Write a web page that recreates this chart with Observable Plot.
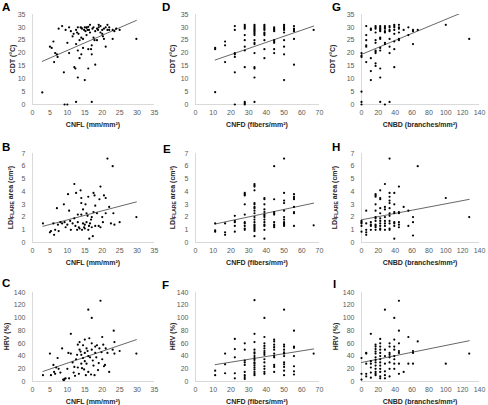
<!DOCTYPE html>
<html><head><meta charset="utf-8">
<script src="https://cdn.jsdelivr.net/npm/d3@7"></script>
<script src="https://cdn.jsdelivr.net/npm/@observablehq/plot@0.6"></script>
<style>
body{margin:0;background:#fff;}
#wrap{position:relative;width:488px;height:405px;font-family:"Liberation Sans",Arial,sans-serif;overflow:hidden;background:#fff;}
#wrap svg{position:absolute;}
</style></head><body><div id="wrap"></div>
<script>
// ---- tick labels ----
const cnflTicks = [0,5,10,15,20,25,30,35];
const cnfdTicks = [0,10,20,30,40,50,60,70];
const cnbdTicks = [0,20,40,60,80,100,120,140];
const cdtTicks = [0,5,10,15,20,25,30,35];
const ldiTicks = [0,1,2,3,4,5,6,7];
const hrvTicks = [0,20,40,60,80,100,120,140];

// ---- data: CNFL (continuous) ----
const cdtVsCnfl = [[2.8,4.7],[9.2,0],[10,0],[12.5,1],[17,1],[6,24.5],[5,22.5],[5.5,22],[6.2,16.5],[6.5,20],[7,19.5],[7.2,18.5],[7.5,29.5],[8.5,30.5],[9,12.5],[9.5,29],[10,24],[10.5,20],[10.5,30],[11,28.5],[11.5,26.5],[11.8,27.5],[12,14.5],[12.3,14],[12.5,23.5],[12.5,29],[13,10.5],[13,21],[13.5,18],[13.5,25],[13.8,30],[14,19.5],[14,26],[14.2,29.5],[14.5,25.5],[14.5,22],[14.8,29],[15,30],[15,9.5],[15.2,28.5],[15.5,30],[15.5,27],[15.8,29],[16,14],[16,21.5],[16.2,29],[16.5,31],[16.5,28],[16.8,21.5],[17,19.5],[17,23],[17.2,29.5],[17.5,26],[17.5,30],[17.8,25],[18,15.5],[18,28.5],[18.5,25],[18.5,29.5],[19,31],[19,30],[19.5,30.5],[19.5,28],[20,29],[20,27.5],[20.2,26.5],[20.5,25.5],[20.5,29.5],[21,22.5],[21,30],[21.5,31],[21.5,29],[22,30],[22,29],[23,29],[23,25.5],[23.5,28.5],[24,29.5],[25,29],[29.8,25.5],[13,30],[14,29.8],[15.5,29.8],[16,30.2],[18.8,29],[12.8,28],[13.2,27.5]];
const ldiVsCnfl = [[3,1.5],[5,0.8],[5.3,0.9],[6,1.5],[6.2,0.6],[6.5,1],[7,2.7],[7.3,1.4],[7.5,0.9],[8,1.6],[8.5,1.5],[9,3],[9.2,1.6],[9.5,1.2],[10,1.4],[10.2,3.8],[10.5,2.5],[10.8,1.7],[11,1.0],[11.5,1.5],[12,4.6],[12,1.9],[12.3,1.3],[12.5,3.9],[12.8,1.0],[13,1.6],[13,2.2],[13.3,1.2],[13.5,1.1],[13.8,4.1],[14,3.5],[14,3.1],[14,2.2],[14.2,1.0],[14.5,1.5],[14.5,2.6],[14.8,1.2],[15,1.1],[15,1.4],[15.2,3.0],[15.5,2.3],[15.5,1.6],[15.8,2.1],[16,1.0],[16,3.6],[16.2,1.3],[16.3,0.3],[16.5,1.5],[16.8,1.8],[17,2.0],[17,1.2],[17.3,0.5],[17.5,3.9],[17.5,2.4],[17.8,3.7],[18,2.9],[18,1.3],[18.5,2.3],[19,1.3],[19.2,3.4],[19.5,4.4],[19.5,1.2],[20,2.0],[20.2,1.6],[20.5,3.7],[21,3.5],[21,2.3],[21.5,6.6],[22,2.8],[22.5,1.5],[23,6.0],[23.2,2.3],[23.5,1.4],[25,1.6],[29.8,2.0]];
const hrvVsCnfl = [[3,10],[5,44],[5.3,10],[6,26],[6.2,15],[6.5,12],[6.8,22],[7.2,37],[7.5,20],[8,14],[8.5,52],[8.8,3],[9,2],[9.2,4],[9.5,5],[10,20],[10.3,45],[10.5,5],[11,75],[11,44],[11.5,30],[11.8,14],[12,23],[12.2,9],[12.5,35],[12.8,42],[13,58],[13,22],[13.3,12],[13.5,62],[13.5,50],[13.8,47],[14,42],[14,28],[14.2,21],[14.5,57],[14.5,37],[14.8,19],[15,66],[15,45],[15,32],[15.3,10],[15.5,52],[15.5,28],[15.8,48],[16,113],[16,40],[16,15],[16.3,68],[16.5,38],[16.8,11],[17,100],[17,60],[17,50],[17.3,33],[17.5,25],[17.8,10],[18,55],[18,45],[18.3,38],[18.5,57],[18.8,18],[19,29],[19.2,52],[19.5,127],[19.8,46],[20,70],[20,35],[20.3,58],[20.5,24],[20.8,26],[21,52],[21.5,45],[22,15],[23,50],[23.3,80],[23.5,62],[23.5,44],[25,48],[29.8,44]];

// ---- data: CNFD (discrete x, list of y values) ----
const cdtVsCnfd = [[11.1,[22,21.5,4.8]],[16.7,[24.5,23,16.5]],[22.2,[30.5,29,20,19.5,18.5,12.5,0]],[27.8,[31,30.5,30,29.5,27,25,22.5,21,14.5,1,0.5,0]],[33.3,[31,30.5,30,29.5,29,28.5,28,27.5,27,25,24,23.5,20,14.5,14,10.5,1]],[38.9,[31,30.5,30,29.5,29,28,27.5,27,25,21.5,18]],[44.4,[30,29.5,29,28.5,25,24.5,24,21.5,20]],[50,[31,30.5,30,29.5,29,28,25,22.5,19.5,9.5]],[55.6,[30.5,29.5,29,28.5,25.5,15.5]],[66.7,[29]]];
const ldiVsCnfd = [[11.1,[1.5,0.95,0.85]],[16.7,[1.5,0.8,0.6]],[22.2,[2.1,1.7,1.6,1.3,0.85]],[27.8,[3.9,3.8,3.7,3.0,2.2,1.6,1.5,1.3,1.1,1.0]],[33.3,[4.6,4.5,4.4,4.1,3.1,3.0,2.8,2.7,2.5,2.3,2.0,1.8,1.6,1.4,1.3,1.2,1.1,1.0,0.9,0.5]],[38.9,[3.5,3.4,3.0,2.6,2.4,2.2,2.1,2.0,1.8,1.6,1.4,1.3,1.0,0.3]],[44.4,[6.0,3.4,2.4,2.3,2.2,1.6,1.4,1.3,1.2]],[50,[6.6,3.9,3.3,3.1,2.5,2.0,1.8,1.6,1.5,1.4,1.3]],[55.6,[3.8,3.6,3.5,3.4,2.8,2.4,2.3,1.3]],[66.7,[1.35]]];
const hrvVsCnfd = [[11.1,[17,10]],[16.7,[44,27,13]],[22.2,[67,51,38,13,5]],[27.8,[60,50,33,30,26,15,10,7,4]],[33.3,[128,75,62,50,46,44,40,37,34,30,28,25,22,19,15,12,10]],[38.9,[100,70,60,56,52,48,45,42,35,30,24,20,15,12]],[44.4,[66,63,58,54,50,44,40,38,26,23,15]],[50,[113,58,55,50,46,44,40,30,27,23,17,10]],[55.6,[80,55,53,40,24,16,11]],[66.7,[44]]];

// ---- data: CNBD (discrete x, list of y values) ----
const cdtVsCnbd = [[0,[20,19,18.5,5,1,0]],[5.6,[30.5,27,25,23,22.5,16.5]],[11.1,[29.5,29,18,13,9.5]],[16.7,[30.5,30,29.5,28,25,24,21,20.5,20,16,15]],[22.2,[30.5,30,29.5,29,28.5,26,25.5,22,21,14,10.5,1]],[27.8,[30.5,30,29.5,28.5,28,24,23.5,0]],[33.3,[30.5,30,29,28.5,25.5,22.5,20,1]],[38.9,[31,30.5,30,29,27.5,24.5,21.5,14.5]],[44.4,[31,30,29.5,28,25.5,25]],[50,[29]],[55.6,[30,27]],[61.1,[29,28.5,23.5]],[66.7,[29]],[100,[31]],[127.8,[25.5]]];
const ldiVsCnbd = [[0,[1.7,1.6,1.5,1.3,0.85]],[5.6,[2.5,1.5,1.0,0.8,0.6]],[11.1,[1.6,1.4,1.3,1.0]],[16.7,[3.8,3.7,3.6,3.0,2.5,2.0,1.9,1.7,1.4,1.3,1.2,1.0]],[22.2,[4.1,3.5,3.4,2.7,2.3,1.9,1.7,1.5,1.3,1.1,1.0]],[27.8,[4.6,2.8,2.6,2.0,1.7,1.5,1.3,1.0]],[33.3,[6.6,3.9,3.6,3.3,3.1,2.7,2.3,2.1,1.7,1.5,1.1,1.0]],[38.9,[3.9,3.0,2.4,2.3,1.6,1.5,1.3,0.3]],[44.4,[4.4,2.4,2.3,1.6,1.4,1.2]],[50,[2.8]],[55.6,[2.5,1.3]],[61.1,[2.0,1.6,0.55]],[66.7,[6.0]],[100,[3.5]],[127.8,[2.0]]];
const hrvVsCnbd = [[0,[37,12,3]],[5.6,[45,44,28,12,8]],[11.1,[75,32,28,22,14,6]],[16.7,[58,55,51,47,44,38,34,30,25,20,15,12,10]],[22.2,[67,60,55,50,45,40,35,30,25,20,15,8,5]],[27.8,[113,50,40,28,16,10,5]],[33.3,[60,55,45,42,38,30,20,8]],[38.9,[100,66,55,50,40,35,28,20]],[44.4,[127,80,60,48,45,28,12]],[50,[15]],[55.6,[70,28]],[61.1,[48,45,28]],[66.7,[63]],[100,[28]],[127.8,[44]]];

const flat = g => g.flatMap(([x, ys]) => ys.map(y => [x, y]));

// ---- layout ----
const cols = [
  {x0:32, x1:154, domain:[0,35], ticks:cnflTicks, label:"CNFL (mm/mm²)"},
  {x0:195, x1:319, domain:[0,70], ticks:cnfdTicks, label:"CNFD (fibers/mm²)"},
  {x0:361, x1:479, domain:[0,140], ticks:cnbdTicks, label:"CNBD (branches/mm²)"}
];
const rows = [
  {y0:14, y1:104, domain:[0,35], ticks:cdtTicks, label:"CDT (°C)"},
  {y0:153, y1:242, domain:[0,7], ticks:ldiTicks, label:"LDI"},
  {y0:292, y1:381, domain:[0,140], ticks:hrvTicks, label:"HRV (%)"}
];
const panels = [
  [cdtVsCnfl, flat(cdtVsCnfd), flat(cdtVsCnbd)],
  [ldiVsCnfl, flat(ldiVsCnfd), flat(ldiVsCnbd)],
  [hrvVsCnfl, flat(hrvVsCnfd), flat(hrvVsCnbd)]
];
const yLabelOff = [[19,22,28],[21,22,26],[25,22,25]];
const letters = [["A","D","G"],["B","E","H"],["C","F","I"]];
const letterPos = [[[2,10.5],[162,10.5],[332,10.5]],[[2,150.5],[163,153],[332,151]],[[2,287],[162,289],[333,288]]];

const wrap = document.getElementById("wrap");
const font = "'Liberation Sans', Arial, sans-serif";
const fmt = d => String(d);

rows.forEach((row, ri) => cols.forEach((col, ci) => {
  const data = panels[ri][ci];
  const mL=40, mR=14, mT=16, mB=30;
  const w = col.x1-col.x0, h = row.y1-row.y0;
  const svg = Plot.plot({
    width: w+mL+mR, height: h+mT+mB,
    marginLeft:mL, marginRight:mR, marginTop:mT, marginBottom:mB,
    style:{background:"transparent", overflow:"visible", fontFamily:font, fontSize:"7px"},
    x:{domain:col.domain}, y:{domain:row.domain},
    marks:[
      Plot.ruleX([col.domain[0]], {stroke:"#d9d9d9", strokeWidth:1}),
      Plot.ruleY([row.domain[0]], {stroke:"#d9d9d9", strokeWidth:1}),
      Plot.axisX({ticks:col.ticks, tickFormat:fmt, tickSize:0, tickPadding:6, label:null, fill:"#595959"}),
      Plot.axisY({ticks:row.ticks, tickFormat:fmt, tickSize:0, tickPadding:7, label:null, fill:"#595959"}),
      Plot.linearRegressionY(data, {x:d=>d[0], y:d=>d[1], stroke:"#404040", strokeWidth:0.8, ci:0, clip:true}),
      Plot.dot(data, {x:d=>d[0], y:d=>d[1], r:1.1, fill:"#000", stroke:null})
    ]
  });
  svg.style.left = (col.x0-mL)+"px";
  svg.style.top = (row.y0-mT)+"px";
  const s = d3.select(svg);
  s.append("text").attr("x", mL+w/2).attr("y", mT+h+21)
    .attr("text-anchor","middle").attr("dominant-baseline","middle")
    .attr("font-weight","bold").attr("font-size","7px").attr("fill","#262626")
    .text(col.label);
  const yl = s.append("text")
    .attr("transform", `translate(${mL-yLabelOff[ri][ci]},${mT+h/2}) rotate(-90)`)
    .attr("text-anchor","middle").attr("dominant-baseline","middle")
    .attr("font-weight","bold").attr("font-size","7px").attr("fill","#262626");
  if (row.label === "LDI") {
    yl.append("tspan").text("LDI");
    yl.append("tspan").attr("font-size","5px").attr("dy","1.5").text("FLARE");
    yl.append("tspan").attr("dy","-1.5").text(" area (cm²)");
  } else yl.text(row.label);
  wrap.appendChild(svg);
}));

// panel letters
const over = d3.select(wrap).append("svg").attr("width",488).attr("height",405)
  .style("left","0px").style("top","0px");
letters.forEach((r, ri) => r.forEach((L, ci) => {
  over.append("text").attr("x", letterPos[ri][ci][0]).attr("y", letterPos[ri][ci][1])
    .attr("font-family", font).attr("font-weight","bold").attr("font-size","11.5px").attr("fill","#000").text(L);
}));
</script></body></html>
